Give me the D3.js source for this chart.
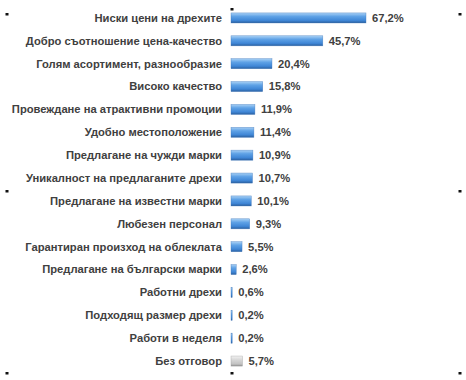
<!DOCTYPE html>
<html><head><meta charset="utf-8">
<script src="https://cdn.jsdelivr.net/npm/d3@7"></script>
<style>body{margin:0;background:#fff}svg{display:block}</style>
</head><body>
<script>
const categories = ["Ниски цени на дрехите","Добро съотношение цена-качество","Голям асортимент, разнообразие","Високо качество","Провеждане на атрактивни промоции","Удобно местоположение","Предлагане на чужди марки","Уникалност на предлаганите дрехи","Предлагане на известни марки","Любезен персонал","Гарантиран произход на облеклата","Предлагане на български марки","Работни дрехи","Подходящ размер дрехи","Работи в неделя","Без отговор"];
const values = [67.2,45.7,20.4,15.8,11.9,11.4,10.9,10.7,10.1,9.3,5.5,2.6,0.6,0.2,0.2,5.7];
const valueLabels = ["67,2%","45,7%","20,4%","15,8%","11,9%","11,4%","10,9%","10,7%","10,1%","9,3%","5,5%","2,6%","0,6%","0,2%","0,2%","5,7%"];

const W=466,H=380;
const svg=d3.select("body").append("svg").attr("width",W).attr("height",H);
const defs=svg.append("defs");
const gb=defs.append("linearGradient").attr("id","gb").attr("x1",0).attr("y1",0).attr("x2",0).attr("y2",1);
[[0,"#a9d1f5"],[0.35,"#5fa2e6"],[0.75,"#3f86d6"],[1,"#2a5f9e"]].forEach(s=>gb.append("stop").attr("offset",s[0]).attr("stop-color",s[1]));
const gg=defs.append("linearGradient").attr("id","gg").attr("x1",0).attr("y1",0).attr("x2",0).attr("y2",1);
[[0,"#f2f2f2"],[0.4,"#d6d6d6"],[0.8,"#c2c2c2"],[1,"#8f8f8f"]].forEach(s=>gg.append("stop").attr("offset",s[0]).attr("stop-color",s[1]));

const x0=231;
const x=d3.scaleLinear().domain([0,67.2]).range([x0,366]);
const y=d3.scaleBand().domain(categories).range([6.5,372.5]).paddingInner(0.56).paddingOuter(0.28);

const g=svg.append("g");
g.selectAll("rect.bar").data(values).join("rect").attr("class","bar")
 .attr("x",x0).attr("y",(d,i)=>y(categories[i]))
 .attr("width",d=>Math.max(1.2,x(d)-x0)).attr("height",y.bandwidth())
 .attr("fill",(d,i)=>i===categories.length-1?"url(#gg)":"url(#gb)")
 .attr("stroke",(d,i)=>i===categories.length-1?"#9a9a9a":"#3b74b8").attr("stroke-width",0.5).attr("stroke-opacity",0.7);
g.selectAll("text.lab").data(categories).join("text").attr("class","lab")
 .attr("x",222).attr("y",d=>y(d)+y.bandwidth()/2).attr("dy","0.35em")
 .attr("text-anchor","end").attr("font-family","Liberation Sans, Arial, sans-serif")
 .attr("font-weight","bold").attr("font-size",11.2).attr("fill","#404040").text(d=>d);
g.selectAll("text.val").data(values).join("text").attr("class","val")
 .attr("x",d=>Math.max(x0+1.2,x(d))+6).attr("y",(d,i)=>y(categories[i])+y.bandwidth()/2).attr("dy","0.35em")
 .attr("font-family","Liberation Sans, Arial, sans-serif")
 .attr("font-weight","bold").attr("font-size",11.2).attr("fill","#404040").text((d,i)=>valueLabels[i]);

// selection handles
const handles=[[7,14],[232,9],[460,14],[7,191],[460,191],[7,373],[232,373],[460,373]];
svg.selectAll("rect.h").data(handles).join("rect").attr("class","h")
 .attr("x",d=>d[0]-1.5).attr("y",d=>d[1]-1).attr("width",3).attr("height",2.5).attr("fill","#111");
</script>
</body></html>
